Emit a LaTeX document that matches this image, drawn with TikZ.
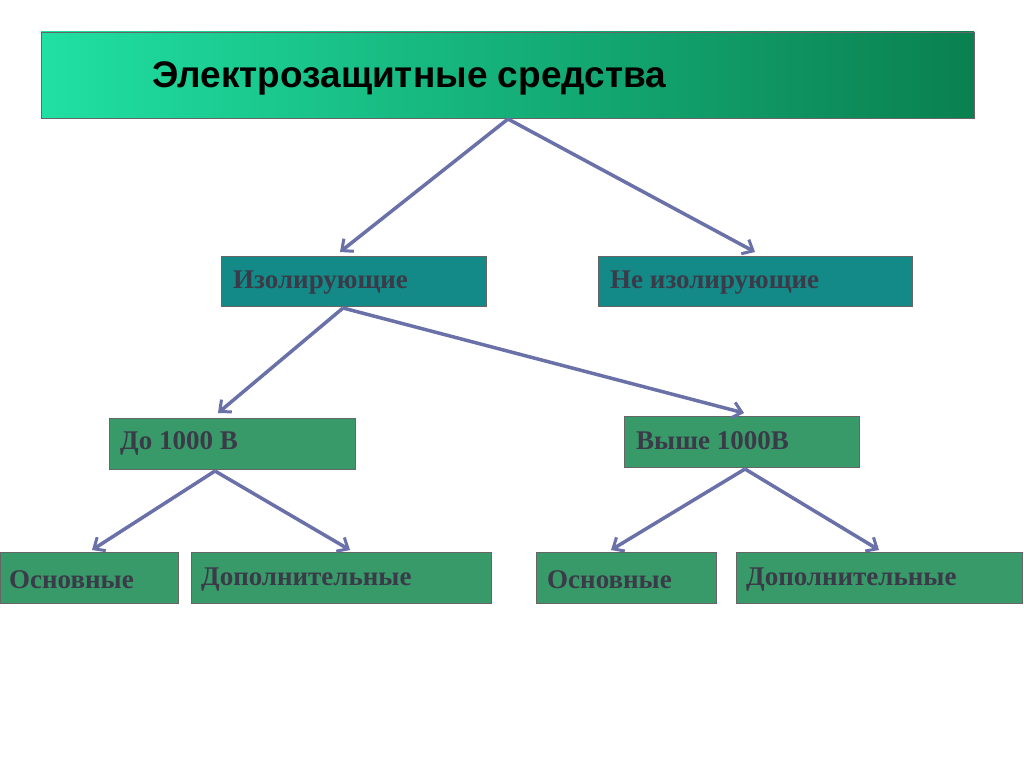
\documentclass[tikz,border=0pt]{standalone}
\usepackage{fontspec}
\setmainfont{Liberation Serif}
\newfontfamily\hsans{Liberation Sans}
\usetikzlibrary{arrows.meta,shadows}
\definecolor{tealbox}{HTML}{138A87}
\definecolor{greenbox}{HTML}{389A68}
\definecolor{arr}{HTML}{6A70A8}
\definecolor{txt}{HTML}{3A3A48}
\definecolor{gl}{HTML}{20E0A2}
\definecolor{gr}{HTML}{0A8050}
\begin{document}
\begin{tikzpicture}[x=1pt,y=-1pt,
  bx/.style={draw=black!60,line width=0.8pt},
  lbl/.style={anchor=west,inner sep=0pt,text=txt,font=\fontsize{27}{30}\selectfont\bfseries},
  con/.style={draw=arr,line width=3.5pt,-{Straight Barb[length=9pt,width=16pt,line width=3pt]}}]
\useasboundingbox (0,0) rectangle (1024,767);
\fill[white] (0,0) rectangle (1024,767);
\shade[left color=gl,right color=gr,draw=black!60,line width=0.8pt] (41,32) rectangle (974,118);
\node[anchor=west,inner sep=0pt,font=\hsans\fontsize{37}{40}\selectfont\bfseries] (t) at (152,78) {Электрозащитные средства};
\coordinate (tb) at (508,119);
\fill[bx,fill=tealbox] (221,256) rectangle (486,306);
\fill[bx,fill=tealbox] (598,256) rectangle (912,306);
\fill[bx,fill=greenbox] (109,418) rectangle (355,469);
\fill[bx,fill=greenbox] (624,416) rectangle (859,467);
\fill[bx,fill=greenbox] (0,552) rectangle (178,603);
\fill[bx,fill=greenbox] (191,552) rectangle (491,603);
\fill[bx,fill=greenbox] (536,552) rectangle (716,603);
\fill[bx,fill=greenbox] (736,552) rectangle (1022,603);
\node[lbl] (iz) at (233,283) {Изолирующие};
\node[lbl] (niz) at (610,283) {Не изолирующие};
\node[lbl] (d1) at (120,443) {До 1000 В};
\node[lbl] (v1) at (636,441) {Выше 1000В};
\node[lbl] (o1) at (9,580) {Основные};
\node[lbl] (p1) at (201,580) {Дополнительные};
\node[lbl] (o2) at (547,580) {Основные};
\node[lbl] (p2) at (746,580) {Дополнительные};
\coordinate (a1) at (340,252); \coordinate (a2) at (755,252);
\coordinate (b0) at (343,308); \coordinate (b1) at (218,413); \coordinate (b2) at (744,413);
\coordinate (c0) at (215,471); \coordinate (c1) at (92,550); \coordinate (c2) at (350,550);
\coordinate (e0) at (745,469); \coordinate (e1) at (611,550); \coordinate (e2) at (879,550);
\draw[con] (tb) -- (a1); \draw[con] (tb) -- (a2);
\draw[con] (b0) -- (b1); \draw[con] (b0) -- (b2);
\draw[con] (c0) -- (c1); \draw[con] (c0) -- (c2);
\draw[con] (e0) -- (e1); \draw[con] (e0) -- (e2);
\end{tikzpicture}
\end{document}
